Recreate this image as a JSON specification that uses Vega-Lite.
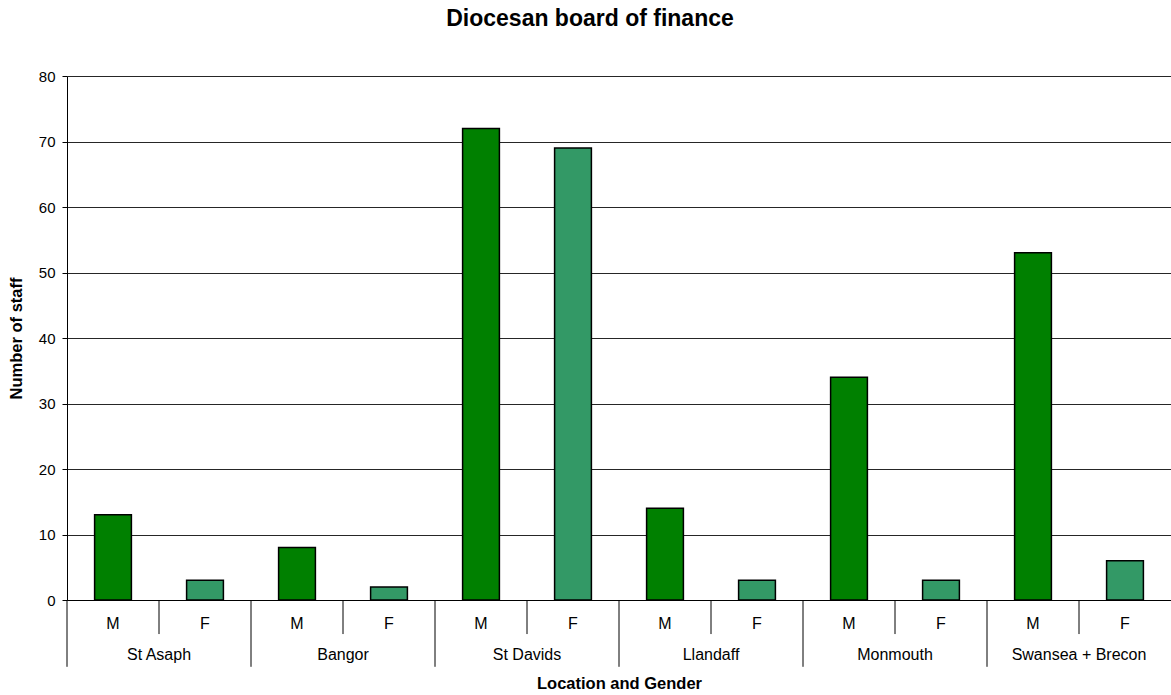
{
  "$schema": "https://vega.github.io/schema/vega-lite/v6.json",
  "width": 1104,
  "height": 524,
  "padding": 8,
  "title": {
    "text": "Diocesan board of finance",
    "font": "Liberation Sans",
    "fontSize": 23,
    "fontWeight": "bold",
    "color": "#000",
    "offset": 38,
    "dx": -29
  },
  "config": {
    "view": {"stroke": null},
    "font": "Liberation Sans"
  },
  "data": {
    "values": [
      {"location": "St Asaph", "gender": "M", "key": "St Asaph M", "staff": 13},
      {"location": "St Asaph", "gender": "F", "key": "St Asaph F", "staff": 3},
      {"location": "Bangor", "gender": "M", "key": "Bangor M", "staff": 8},
      {"location": "Bangor", "gender": "F", "key": "Bangor F", "staff": 2},
      {"location": "St Davids", "gender": "M", "key": "St Davids M", "staff": 72},
      {"location": "St Davids", "gender": "F", "key": "St Davids F", "staff": 69},
      {"location": "Llandaff", "gender": "M", "key": "Llandaff M", "staff": 14},
      {"location": "Llandaff", "gender": "F", "key": "Llandaff F", "staff": 3},
      {"location": "Monmouth", "gender": "M", "key": "Monmouth M", "staff": 34},
      {"location": "Monmouth", "gender": "F", "key": "Monmouth F", "staff": 3},
      {"location": "Swansea + Brecon", "gender": "M", "key": "Swansea + Brecon M", "staff": 53},
      {"location": "Swansea + Brecon", "gender": "F", "key": "Swansea + Brecon F", "staff": 6}
    ]
  },
  "layer": [
    {
      "mark": {"type": "bar", "stroke": "#000", "strokeWidth": 1.5},
      "encoding": {
        "x": {
          "field": "key",
          "type": "nominal",
          "sort": null,
          "scale": {"paddingInner": 0.6, "paddingOuter": 0.3},
          "axis": {
            "title": "Location and Gender",
            "titleFontSize": 16.5,
            "titleFontWeight": "bold",
            "titleColor": "#000",
            "titlePadding": 41,
            "labelAngle": 0,
            "labelExpr": "slice(datum.value, -1)",
            "labelFontSize": 16,
            "labelColor": "#000",
            "labelPadding": -19,
            "tickSize": 34,
            "tickOpacity": 0,
            "domainColor": "#000",
            "grid": false
          }
        },
        "y": {
          "field": "staff",
          "type": "quantitative",
          "scale": {"domain": [0, 80], "nice": false},
          "axis": {
            "title": "Number of staff",
            "titleFontSize": 16.5,
            "titleFontWeight": "bold",
            "titleColor": "#000",
            "titlePadding": 14,
            "values": [0, 10, 20, 30, 40, 50, 60, 70, 80],
            "labelFontSize": 15,
            "labelColor": "#000",
            "labelPadding": 7,
            "tickSize": 5,
            "tickColor": "#000",
            "domainColor": "#000",
            "grid": true,
            "gridColor": "#000",
            "gridOpacity": 0.85
          }
        },
        "color": {
          "field": "gender",
          "type": "nominal",
          "scale": {"domain": ["M", "F"], "range": ["#008000", "#339966"]},
          "legend": null
        }
      }
    },
    {
      "transform": [{"filter": "datum.gender === 'M'"}],
      "mark": {"type": "text", "fontSize": 16, "color": "#000", "baseline": "middle", "dy": 55},
      "encoding": {
        "x": {"field": "key", "type": "nominal", "sort": null, "bandPosition": 1.75},
        "y": {"datum": 0, "type": "quantitative"},
        "text": {"field": "location"}
      }
    },
    {
      "transform": [{"filter": "datum.gender === 'F'"}],
      "mark": {"type": "rule", "color": "#000", "strokeWidth": 1},
      "encoding": {
        "x": {"field": "key", "type": "nominal", "sort": null, "bandPosition": -0.75},
        "y": {"datum": 0, "type": "quantitative"},
        "y2": {"datum": -5.2}
      }
    },
    {
      "transform": [{"filter": "datum.gender === 'M'"}],
      "mark": {"type": "rule", "color": "#000", "strokeWidth": 1},
      "encoding": {
        "x": {"field": "key", "type": "nominal", "sort": null, "bandPosition": -0.75},
        "y": {"datum": 0, "type": "quantitative"},
        "y2": {"datum": -10.2}
      }
    }
  ]
}
